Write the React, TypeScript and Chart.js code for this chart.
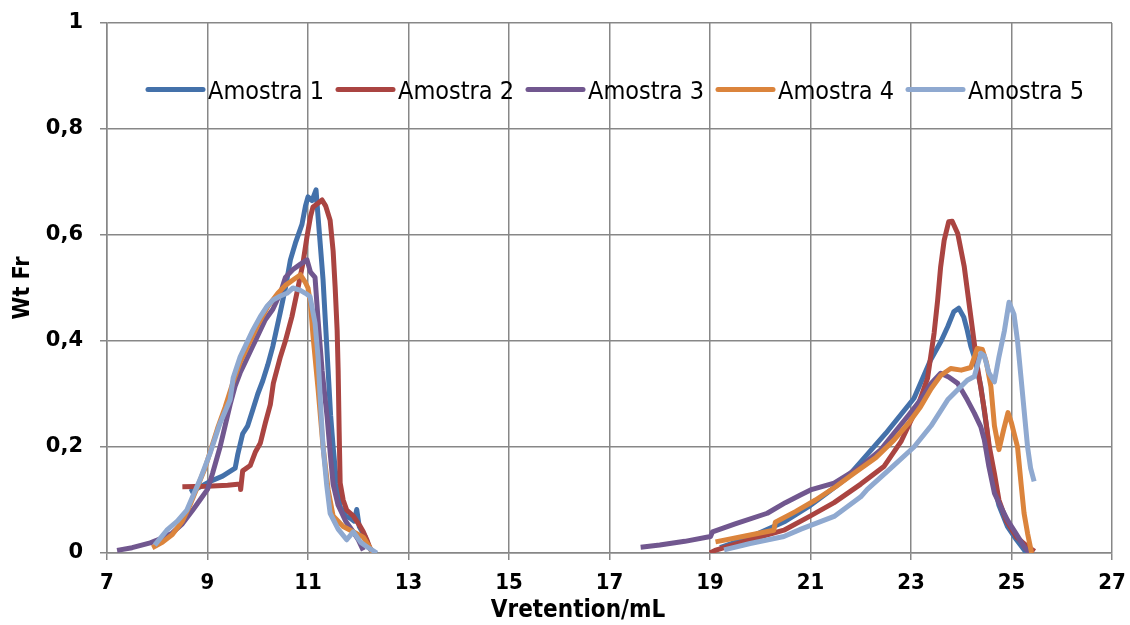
import React, { useEffect, useRef } from "react";
import { Chart, registerables } from "chart.js";

Chart.register(...registerables);

// ---------- data ----------
const seriesNames = ["Amostra 1", "Amostra 2", "Amostra 3", "Amostra 4", "Amostra 5"];
const seriesColors = ["#4471AA", "#AA4441", "#71578F", "#DB843C", "#8FA9D0"];

const xTitle = "Vretention/mL";
const yTitle = "Wt Fr";

const xTickMin = 7;
const xTickMax = 27;
const xTickStep = 2;
const yTickMin = 0;
const yTickMax = 1;
const yTickStep = 0.2;

// null marks the break between the two elution regions
const amostra1X = [8.65, 8.8, 9.05, 9.3, 9.55, 9.6, 9.7, 9.8, 9.9, 10.0, 10.1, 10.2, 10.3, 10.45, 10.55, 10.65, 10.75, 10.88, 10.95, 11.0, 11.08, 11.16, 11.2, 11.25, 11.3, 11.35, 11.4, 11.45, 11.5, 11.57, 11.64, 11.75, 11.85, 11.92, 11.97, 12.02, 12.14, 12.22, 12.3,
  null,
  19.2, 19.8, 20.5, 21.0, 21.33, 21.7, 22.0, 22.5, 23.06, 23.39, 23.6, 23.73, 23.85, 23.95, 24.05, 24.12, 24.19, 24.26, 24.39, 24.5, 24.59, 24.65, 24.75, 24.92, 25.1, 25.3];
const amostra1Y = [0.115, 0.122, 0.135, 0.145, 0.16, 0.185, 0.225, 0.24, 0.27, 0.3, 0.325, 0.355, 0.39, 0.455, 0.5, 0.553, 0.585, 0.62, 0.655, 0.672, 0.665, 0.685, 0.635, 0.575, 0.515, 0.43, 0.345, 0.26, 0.2, 0.13, 0.087, 0.07, 0.065, 0.06, 0.082, 0.05, 0.03, 0.01, 0.0,
  null,
  0.01, 0.03, 0.06, 0.09, 0.113, 0.14, 0.172, 0.226, 0.292, 0.364, 0.4, 0.427, 0.455, 0.462, 0.445, 0.42, 0.39, 0.37, 0.314, 0.24, 0.169, 0.13, 0.09, 0.05, 0.025, 0.0];

const amostra2X = [8.5, 9.0, 9.4, 9.65, 9.66, 9.7, 9.85, 9.95, 10.05, 10.15, 10.25, 10.31, 10.45, 10.55, 10.68, 10.8, 10.9, 10.98, 11.05, 11.1, 11.2, 11.28, 11.35, 11.44, 11.5, 11.54, 11.58, 11.6, 11.62, 11.64, 11.7, 11.77, 11.9, 12.04, 12.1, 12.17, 12.25,
  null,
  19.0, 19.1, 19.8, 20.47, 21.0, 21.47, 22.0, 22.46, 22.8, 23.13, 23.33, 23.46, 23.53, 23.59, 23.66, 23.75, 23.82, 23.93, 24.06, 24.19, 24.32, 24.46, 24.56, 24.66, 24.75, 24.9, 25.1, 25.32, 25.46];
const amostra2Y = [0.125, 0.126, 0.128, 0.13, 0.12, 0.155, 0.165, 0.19, 0.207, 0.245, 0.28, 0.32, 0.37, 0.4, 0.446, 0.5, 0.547, 0.597, 0.635, 0.653, 0.66, 0.666, 0.655, 0.628, 0.57, 0.502, 0.42, 0.345, 0.23, 0.132, 0.1, 0.081, 0.07, 0.05, 0.04, 0.025, 0.005,
  null,
  0.0, 0.005, 0.025, 0.043, 0.07, 0.095, 0.13, 0.163, 0.21, 0.276, 0.33, 0.415, 0.477, 0.54, 0.59, 0.625, 0.626, 0.603, 0.54, 0.446, 0.352, 0.27, 0.2, 0.15, 0.1, 0.06, 0.03, 0.012, 0.003];

const amostra3X = [7.2, 7.5, 7.86, 8.1, 8.3, 8.5, 8.7, 8.85, 9.0, 9.1, 9.25, 9.35, 9.45, 9.55, 9.65, 9.75, 9.9, 10.0, 10.15, 10.3, 10.45, 10.55, 10.7, 10.85, 10.98, 11.05, 11.14, 11.2, 11.28, 11.38, 11.45, 11.5, 11.6, 11.75, 11.9, 12.0, 12.1,
  null,
  17.62, 18.0, 18.5, 19.01, 19.05, 19.5, 20.14, 20.5, 20.81, 21.0, 21.47, 22.0, 22.4, 22.66, 22.95, 23.19, 23.4, 23.59, 23.75, 23.93, 24.12, 24.26, 24.39, 24.46, 24.55, 24.66, 24.8, 24.92, 25.1, 25.25, 25.35];
const amostra3Y = [0.005, 0.01, 0.019, 0.028, 0.038, 0.055, 0.08, 0.1, 0.12, 0.15, 0.2, 0.24, 0.28, 0.315, 0.34, 0.36, 0.39, 0.41, 0.44, 0.46, 0.49, 0.52, 0.535, 0.545, 0.553, 0.53, 0.52, 0.44, 0.345, 0.257, 0.18, 0.13, 0.09, 0.06, 0.04, 0.025, 0.005,
  null,
  0.011, 0.015, 0.022, 0.031, 0.04, 0.055, 0.075, 0.095, 0.11, 0.119, 0.132, 0.163, 0.195, 0.226, 0.26, 0.289, 0.32, 0.339, 0.332, 0.32, 0.289, 0.264, 0.238, 0.213, 0.163, 0.113, 0.085, 0.062, 0.035, 0.012, 0.0];

const amostra4X = [7.9, 8.1, 8.3, 8.5, 8.65, 8.8, 8.95, 9.05, 9.2, 9.35, 9.5, 9.65, 9.8, 10.0, 10.2, 10.4, 10.55, 10.7, 10.85, 10.95, 11.0, 11.05, 11.1, 11.2, 11.3, 11.4, 11.5, 11.7, 11.9, 12.1, 12.3,
  null,
  19.11, 19.7, 20.27, 20.3, 20.7, 21.1, 21.5, 21.86, 22.3, 22.66, 22.95, 23.19, 23.4, 23.59, 23.79, 24.0, 24.19, 24.32, 24.42, 24.5, 24.59, 24.66, 24.75, 24.85, 24.93, 25.0, 25.12, 25.19, 25.25, 25.32, 25.4];
const amostra4Y = [0.01, 0.02, 0.035, 0.06, 0.09, 0.125, 0.16, 0.19, 0.235, 0.275, 0.32, 0.36, 0.39, 0.43, 0.465, 0.49, 0.505, 0.515, 0.525, 0.51, 0.5, 0.47, 0.41, 0.31, 0.2, 0.12, 0.07, 0.05, 0.04, 0.03, 0.0,
  null,
  0.021, 0.032, 0.043, 0.058, 0.078, 0.1, 0.125, 0.15, 0.18, 0.213, 0.245, 0.276, 0.31, 0.335, 0.348, 0.345, 0.35, 0.386, 0.384, 0.36, 0.314, 0.24, 0.195, 0.235, 0.265, 0.245, 0.2, 0.131, 0.075, 0.037, 0.0];

const amostra5X = [7.95, 8.19, 8.4, 8.59, 8.72, 8.85, 9.05, 9.25, 9.45, 9.51, 9.65, 9.78, 9.9, 10.05, 10.18, 10.3, 10.45, 10.58, 10.7, 10.84, 10.95, 11.04, 11.14, 11.2, 11.25, 11.3, 11.37, 11.44, 11.6, 11.77, 11.9, 12.05, 12.2, 12.37,
  null,
  19.28, 19.8, 20.47, 20.81, 21.47, 22.0, 22.13, 22.6, 23.06, 23.4, 23.73, 23.95, 24.12, 24.26, 24.39, 24.46, 24.55, 24.66, 24.75, 24.86, 24.95, 25.05, 25.12, 25.19, 25.26, 25.32, 25.38, 25.45];
const amostra5Y = [0.015, 0.043, 0.06, 0.081, 0.11, 0.138, 0.188, 0.245, 0.289, 0.33, 0.37, 0.396, 0.42, 0.446, 0.465, 0.477, 0.485, 0.49, 0.5, 0.496, 0.49, 0.484, 0.434, 0.37, 0.28, 0.2, 0.13, 0.075, 0.045, 0.025, 0.04, 0.02, 0.01, 0.0,
  null,
  0.006, 0.018, 0.031, 0.045, 0.069, 0.106, 0.12, 0.16, 0.2, 0.24, 0.289, 0.31, 0.326, 0.333, 0.377, 0.372, 0.34, 0.323, 0.37, 0.42, 0.473, 0.45, 0.4, 0.33, 0.26, 0.2, 0.16, 0.135];

const seriesX = [amostra1X, amostra2X, amostra3X, amostra4X, amostra5X];
const seriesY = [amostra1Y, amostra2Y, amostra3Y, amostra4Y, amostra5Y];

const GAP_X = 15; // x used only for the invisible break point

const inlineLegend = {
  id: "inlineLegend",
  afterDraw(chart: any) {
    const { ctx, chartArea } = chart;
    ctx.save();
    // legend inside the plot area
    ctx.font = '25px "DejaVu Sans Condensed", "DejaVu Sans", sans-serif';
    ctx.textBaseline = "alphabetic";
    ctx.textAlign = "left";
    const lineY = chartArea.top + 66.5;
    const textY = chartArea.top + 76;
    chart.data.datasets.forEach((ds: any, i: number) => {
      const x0 = chartArea.left + 41 + i * 190;
      ctx.strokeStyle = ds.borderColor;
      ctx.lineWidth = 5;
      ctx.lineCap = "round";
      ctx.beginPath();
      ctx.moveTo(x0, lineY);
      ctx.lineTo(x0 + 55, lineY);
      ctx.stroke();
      ctx.fillStyle = "#000";
      ctx.fillText(ds.label, x0 + 60, textY);
    });
    // x axis title (sits a little left of the plot centre in the original)
    ctx.font = 'bold 24px "DejaVu Sans Condensed", "DejaVu Sans", sans-serif';
    ctx.textAlign = "center";
    ctx.textBaseline = "middle";
    ctx.fillText(xTitle, chartArea.left + 471, 611);
    ctx.restore();
  },
};

export default function App() {
  const canvasRef = useRef<HTMLCanvasElement | null>(null);

  useEffect(() => {
    const canvas = canvasRef.current;
    if (!canvas) return;
    const datasets = seriesNames.map((name, i) => ({
      label: name,
      data: seriesX[i].map((x, j) => ({ x: x === null ? GAP_X : x, y: seriesY[i][j] })),
      borderColor: seriesColors[i],
      backgroundColor: seriesColors[i],
      borderWidth: 5,
      borderJoinStyle: "round" as const,
      pointRadius: 0,
      pointHoverRadius: 0,
      tension: 0,
      fill: false,
      spanGaps: false,
      order: seriesNames.length - i,
    }));

    const gridColor = "#878787";
    const chart = new Chart(canvas, {
      type: "line",
      data: { datasets },
      plugins: [inlineLegend],
      options: {
        animation: false,
        responsive: false,
        maintainAspectRatio: false,
        layout: { padding: { top: 23, right: 18, bottom: 0, left: 0 } },
        plugins: {
          legend: { display: false },
          tooltip: { enabled: false },
        },
        scales: {
          x: {
            type: "linear",
            min: xTickMin,
            max: xTickMax,
            ticks: {
              stepSize: xTickStep,
              color: "#000",
              padding: 10,
              maxRotation: 0,
              font: { family: '"DejaVu Sans Condensed", "DejaVu Sans", sans-serif', size: 22, weight: "bold" },
            },
            grid: { color: gridColor, lineWidth: 1.5, tickLength: 7 },
            border: { color: gridColor, width: 1.5 },
            title: { display: false },
            afterFit: (scale: any) => {
              scale.height = 72;
              scale.paddingLeft = 0;
              scale.paddingRight = 0;
            },
          },
          y: {
            type: "linear",
            min: yTickMin,
            max: yTickMax,
            ticks: {
              stepSize: yTickStep,
              color: "#000",
              padding: 17,
              font: { family: '"DejaVu Sans", sans-serif', size: 21, weight: "bold" },
              callback: (v: any) => String(Math.round(Number(v) * 10) / 10).replace(".", ","),
            },
            grid: { color: gridColor, lineWidth: 1.5, tickLength: 7 },
            border: { color: gridColor, width: 1.5 },
            title: {
              display: true,
              text: yTitle,
              color: "#000",
              padding: { top: 9, bottom: 0 },
              font: { family: '"DejaVu Sans Condensed", "DejaVu Sans", sans-serif', size: 23, weight: "bold" },
            },
            afterFit: (scale: any) => {
              scale.width = 107;
              scale.paddingTop = 0;
              scale.paddingBottom = 0;
            },
          },
        },
      },
    });
    return () => chart.destroy();
  }, []);

  return (
    <div style={{ position: "fixed", left: 0, top: 0, width: 1130, height: 625, background: "#fff" }}>
      <canvas ref={canvasRef} width={1130} height={625} style={{ display: "block" }} />
    </div>
  );
}
